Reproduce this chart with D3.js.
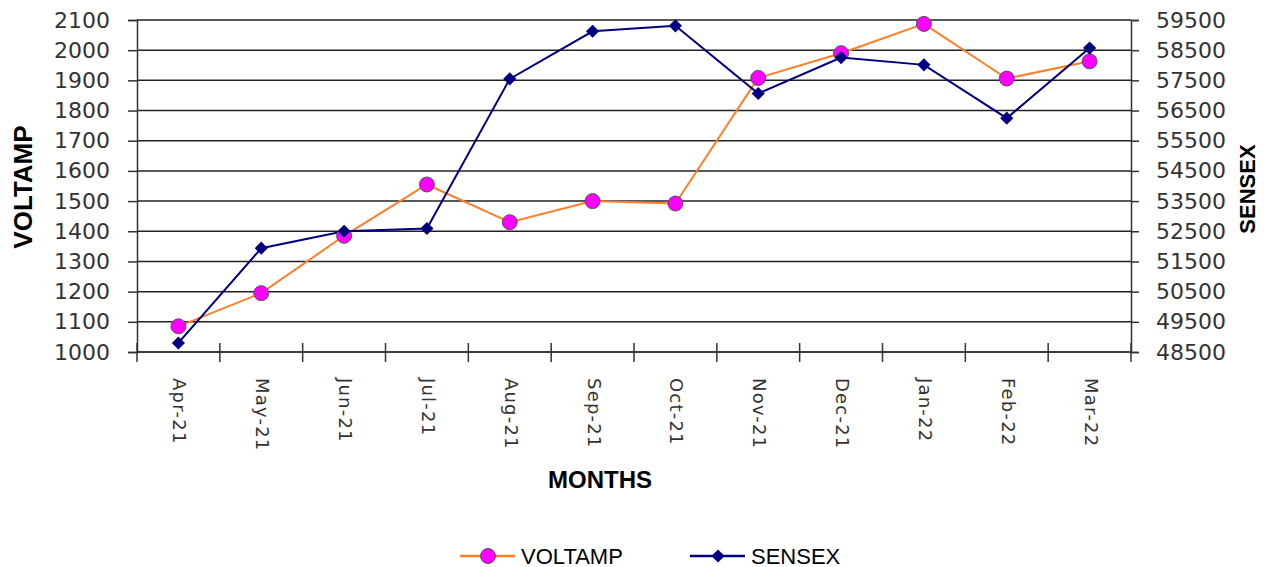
<!DOCTYPE html>
<html>
<head>
<meta charset="utf-8">
<script src="https://cdn.jsdelivr.net/npm/d3@7"></script>
<style>
  body { margin: 0; background: #fff; }
  svg { display: block; }
  .tick-label { font-family: "DejaVu Sans", sans-serif; font-size: 22px; fill: #333; }
  .axis-title { font-family: "Liberation Sans", sans-serif; font-weight: bold; fill: #000; }
  .legend-text { font-family: "Liberation Sans", sans-serif; font-size: 22px; fill: #000; }
</style>
</head>
<body>
<div id="chart-area"></div>
<script>
// Data
const months = ['Apr-21', 'May-21', 'Jun-21', 'Jul-21', 'Aug-21', 'Sep-21',
  'Oct-21', 'Nov-21', 'Dec-21', 'Jan-22', 'Feb-22', 'Mar-22'];
const voltamp = [1085, 1195, 1385, 1555, 1430, 1500, 1492, 1908, 1990, 2087, 1906, 1963];
const sensex = [48800, 51940, 52500, 52590, 57550, 59126, 59307, 57065, 58254, 58014, 56247, 58569];
const leftTicks = d3.range(1000, 2101, 100);
const rightTicks = d3.range(48500, 59501, 1000);

const width = 1267;
const height = 567;
const margin = { top: 20, right: 136, bottom: 215, left: 137 };
const innerWidth = width - margin.left - margin.right;
const innerHeight = height - margin.top - margin.bottom;

const svg = d3.select('#chart-area')
  .append('svg')
  .attr('width', width)
  .attr('height', height);

const g = svg.append('g')
  .attr('transform', `translate(${margin.left}, ${margin.top})`);

// Scales
const xScale = d3.scaleBand().domain(months).range([0, innerWidth]);
const yLeft = d3.scaleLinear().domain([1000, 2100]).range([innerHeight, 0]);
const yRight = d3.scaleLinear().domain([48500, 59500]).range([innerHeight, 0]);

// Gridlines
g.append('g')
  .selectAll('line')
  .data(leftTicks)
  .enter()
  .append('line')
  .attr('x1', 0)
  .attr('x2', innerWidth)
  .attr('y1', (d) => yLeft(d))
  .attr('y2', (d) => yLeft(d))
  .attr('stroke', '#222')
  .attr('stroke-width', 1.5);

// Left axis
const gLeft = g.append('g')
  .call(d3.axisLeft(yLeft).tickValues(leftTicks).tickFormat(d3.format('d'))
    .tickSize(9).tickPadding(18));
// Right axis
const gRight = g.append('g')
  .attr('transform', `translate(${innerWidth}, 0)`)
  .call(d3.axisRight(yRight).tickValues(rightTicks).tickFormat(d3.format('d'))
    .tickSize(8).tickPadding(17));

[gLeft, gRight].forEach((ax) => {
  ax.attr('font-size', null).attr('font-family', null);
  ax.select('.domain').attr('stroke', '#333').attr('stroke-width', 1.5);
  ax.selectAll('.tick line').attr('stroke', '#333').attr('stroke-width', 1.5);
  ax.selectAll('.tick text').attr('class', 'tick-label');
});

// Bottom axis: category boundary ticks crossing the axis line
const gBottom = g.append('g').attr('transform', `translate(0, ${innerHeight})`);
gBottom.append('line')
  .attr('x1', 0).attr('x2', innerWidth)
  .attr('stroke', '#333').attr('stroke-width', 1.5);
gBottom.selectAll('.cat-tick')
  .data(months.concat(['end']))
  .enter()
  .append('line')
  .attr('class', 'cat-tick')
  .attr('x1', (d, i) => i * xScale.step())
  .attr('x2', (d, i) => i * xScale.step())
  .attr('y1', -9)
  .attr('y2', 10)
  .attr('stroke', '#333')
  .attr('stroke-width', 1.5);
gBottom.selectAll('.cat-label')
  .data(months)
  .enter()
  .append('text')
  .attr('class', 'tick-label')
  .attr('transform', (d) => `translate(${xScale(d) + xScale.bandwidth() / 2}, 26) rotate(90)`)
  .attr('dominant-baseline', 'middle')
  .attr('letter-spacing', 1.2)
  .style('font-size', '18px')
  .text((d) => d);

// Lines
const cx = (d, i) => xScale(months[i]) + xScale.bandwidth() / 2;
const voltLine = d3.line().x((d, i) => cx(d, i)).y((d) => yLeft(d));
const sensLine = d3.line().x((d, i) => cx(d, i)).y((d) => yRight(d));

g.append('path')
  .datum(voltamp)
  .attr('d', voltLine)
  .attr('fill', 'none')
  .attr('stroke', '#ff7f27')
  .attr('stroke-width', 2);

g.append('path')
  .datum(sensex)
  .attr('d', sensLine)
  .attr('fill', 'none')
  .attr('stroke', '#000080')
  .attr('stroke-width', 2);

// Markers
const diamond = d3.symbol().type(d3.symbolDiamond2).size(110);

g.selectAll('.volt-pt')
  .data(voltamp)
  .enter()
  .append('circle')
  .attr('class', 'volt-pt')
  .attr('cx', cx)
  .attr('cy', (d) => yLeft(d))
  .attr('r', 7.5)
  .attr('fill', '#ff00ff')
  .attr('stroke', '#555')
  .attr('stroke-width', 1);

g.selectAll('.sens-pt')
  .data(sensex)
  .enter()
  .append('path')
  .attr('class', 'sens-pt')
  .attr('d', diamond)
  .attr('transform', (d, i) => `translate(${cx(d, i)}, ${yRight(d)})`)
  .attr('fill', '#000080');

// Axis titles
svg.append('text')
  .attr('class', 'axis-title')
  .attr('transform', 'translate(32, 187) rotate(-90)')
  .attr('text-anchor', 'middle')
  .style('font-size', '26px')
  .text('VOLTAMP');

svg.append('text')
  .attr('class', 'axis-title')
  .attr('transform', 'translate(1255, 189) rotate(-90)')
  .attr('text-anchor', 'middle')
  .style('font-size', '22px')
  .text('SENSEX');

svg.append('text')
  .attr('class', 'axis-title')
  .attr('x', 600)
  .attr('y', 488)
  .attr('text-anchor', 'middle')
  .style('font-size', '24px')
  .text('MONTHS');

// Legend
const legend = svg.append('g').attr('transform', 'translate(460, 556)');
const legendItems = [
  { name: 'VOLTAMP', x: 0, color: '#ff7f27' },
  { name: 'SENSEX', x: 230, color: '#000080' },
];
const rows = legend.selectAll('g')
  .data(legendItems)
  .enter()
  .append('g')
  .attr('transform', (d) => `translate(${d.x}, 0)`);
rows.append('line')
  .attr('x1', 0).attr('x2', 55)
  .attr('stroke', (d) => d.color)
  .attr('stroke-width', 2.5);
rows.filter((d) => d.name === 'VOLTAMP')
  .append('circle')
  .attr('cx', 28).attr('r', 7.5)
  .attr('fill', '#ff00ff').attr('stroke', '#555');
rows.filter((d) => d.name === 'SENSEX')
  .append('path')
  .attr('d', diamond)
  .attr('transform', 'translate(28, 0)')
  .attr('fill', '#000080');
rows.append('text')
  .attr('class', 'legend-text')
  .attr('x', 61)
  .attr('y', 8)
  .text((d) => d.name);
</script>
</body>
</html>
